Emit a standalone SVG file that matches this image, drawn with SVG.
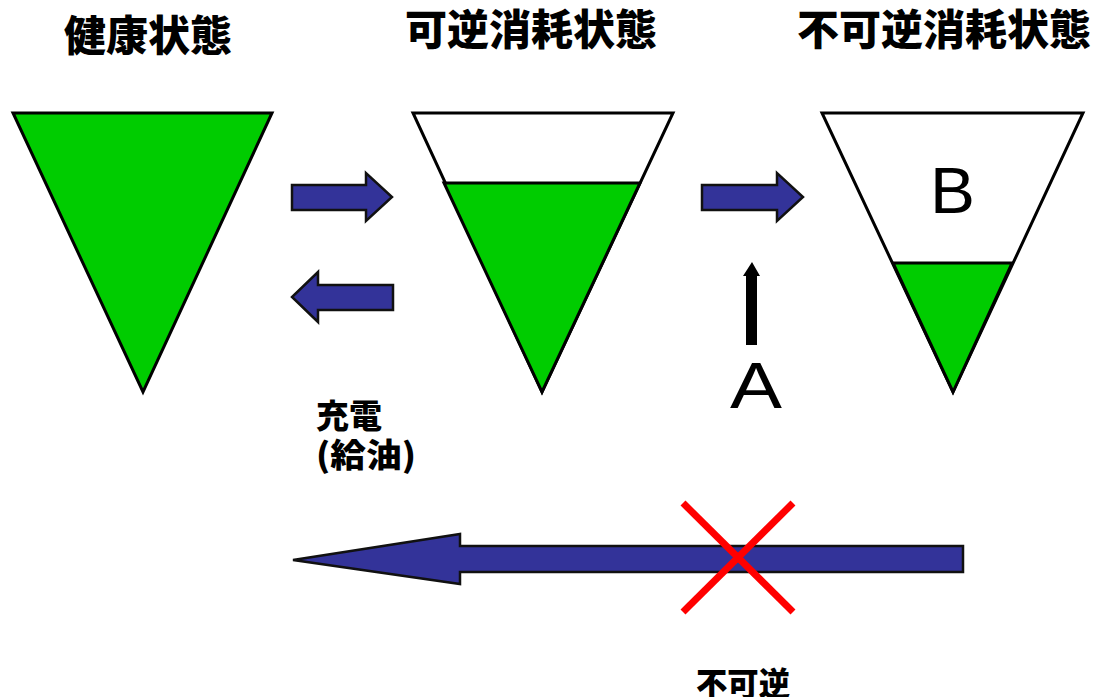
<svg xmlns="http://www.w3.org/2000/svg" width="1097" height="697" viewBox="0 0 1097 697">
<style>
.title{font-family:"Noto Sans CJK JP","Noto Sans CJK SC",sans-serif;font-weight:900;font-size:42px;fill:#000}
.lbl{font-family:"Noto Sans CJK JP","Noto Sans CJK SC",sans-serif;font-weight:900;font-size:33px;fill:#000}
.big{font-family:"Liberation Sans",Arial,sans-serif;font-size:64px;fill:#000}
.tri{fill:#fff;stroke:#000;stroke-width:3;stroke-linejoin:miter}
.grn{fill:#00cc00;stroke:#000;stroke-width:3}
.barrow{fill:#333399;stroke:#111;stroke-width:2.5;stroke-linejoin:miter}
.x{stroke:#ff0000;stroke-width:7;fill:none}
</style>
<rect width="1097" height="697" fill="#fff"/>
<g id="healthy">
<text class="title" x="148" y="51" text-anchor="middle">健康状態</text>
<polygon class="grn" points="13,113 272,113 143,392"/>
</g>
<g id="reversible">
<text class="title" x="531" y="45" text-anchor="middle">可逆消耗状態</text>
<polygon class="tri" points="413,113 673,113 542,392"/>
<polygon class="grn" points="444,183 640,183 542,392"/>
</g>
<g id="irreversible">
<text class="title" x="944" y="45" text-anchor="middle">不可逆消耗状態</text>
<polygon class="tri" points="822,113 1083,113 953,392"/>
<polygon class="grn" points="893,263 1012,263 953,392"/>
<text class="big" x="930" y="213" textLength="45" lengthAdjust="spacingAndGlyphs">B</text>
</g>
<g id="connectors">
<polygon class="barrow" points="292,185 366,185 366,173 392,197 366,221 366,210 292,210"/>
<polygon class="barrow" points="393,285 318,285 318,272 292,297 318,322 318,310 393,310"/>
<polygon class="barrow" points="702,185 777,185 777,173 803,197 777,221 777,210 702,210"/>
<polygon points="752,262 760,276 757,276 757,345 746,345 746,276 743,276" fill="#000"/>
<polygon class="barrow" points="963,546 460,546 460,534 293,560 460,584 460,572 963,572"/>
<line class="x" x1="683" y1="503" x2="793" y2="612"/>
<line class="x" x1="793" y1="503" x2="683" y2="612"/>
</g>
<g id="labels">
<text class="big" x="730" y="408" font-size="68" textLength="52" lengthAdjust="spacingAndGlyphs">A</text>
<text class="lbl" x="316" y="428">充電</text>
<text class="lbl" x="316" y="467" textLength="100" lengthAdjust="spacingAndGlyphs">(給油)</text>
<text class="lbl" x="696" y="696" textLength="94" lengthAdjust="spacingAndGlyphs">不可逆</text>
</g>
</svg>
